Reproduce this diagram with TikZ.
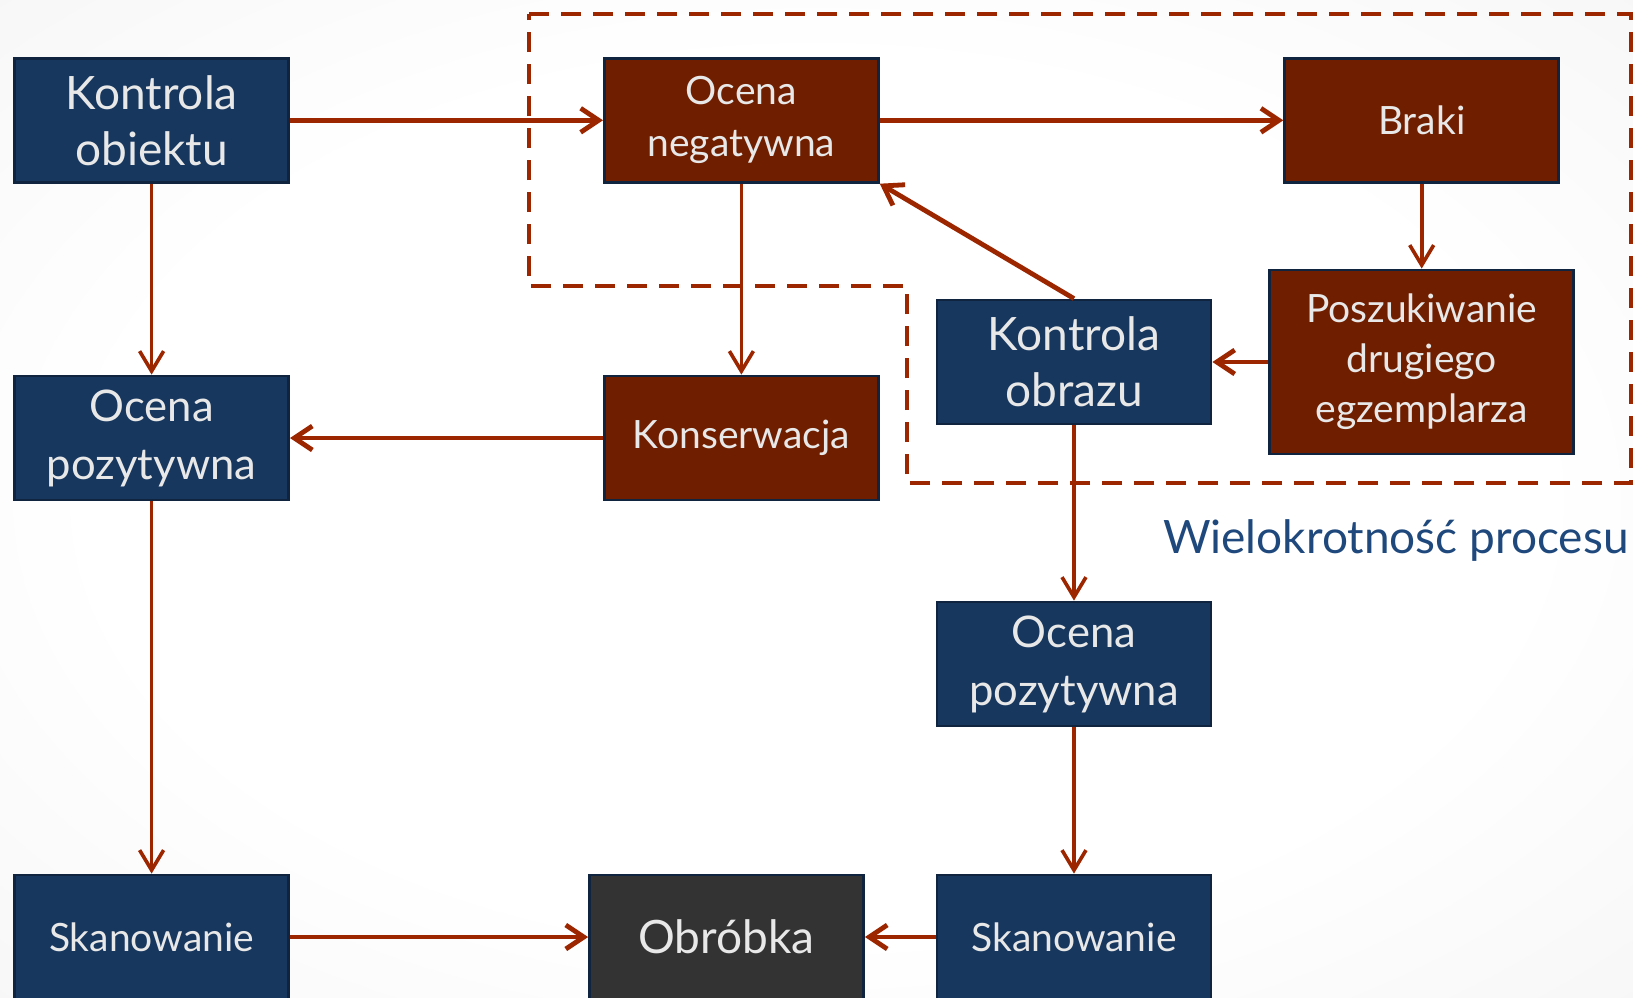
\documentclass[tikz,border=0pt]{standalone}
\usepackage{fontspec}
\setmainfont{Lato}
\usepackage{tikz}
\usepackage{xcolor}
\usetikzlibrary{arrows.meta}

\definecolor{boxblue}{HTML}{17375E}
\definecolor{boxline}{HTML}{10243F}
\definecolor{boxred}{HTML}{701E00}
\definecolor{boxgrey}{HTML}{333333}
\definecolor{linkred}{HTML}{9B2600}
\definecolor{textgrey}{HTML}{E8E8E8}
\definecolor{noteblue}{HTML}{1F497D}
\pgfdeclareradialshading{bgshade}{\pgfpoint{0bp}{0bp}}{color(0bp)=(white); color(22bp)=(white); color(71bp)=(black!11)}

\tikzset{
  box/.style={draw=boxline, line width=1.4pt, text=textgrey, minimum width=137pt,
    minimum height=62pt, inner sep=0pt, align=center},
  bluebox/.style={box, fill=boxblue},
  redbox/.style={box, fill=boxred},
  greybox/.style={box, fill=boxgrey},
  bigtext/.style={font=\fontsize{23}{28}\selectfont},
  postext/.style={font=\fontsize{21.8}{29}\selectfont},
  midtext/.style={font=\fontsize{19.5}{26}\selectfont},
  smalltext/.style={font=\fontsize{19.5}{25}\selectfont},
  link/.style={draw=linkred, line width=2.4pt, -{Straight Barb[length=9pt,width=12pt]}},
  vlink/.style={draw=linkred, line width=1.8pt, -{Straight Barb[length=10pt,width=12pt]}},
}

\begin{document}
\begin{tikzpicture}[x=0.5pt,y=-0.5pt]
\useasboundingbox (0,0) rectangle (1633,997);
\shade[shading=bgshade] (0,0) rectangle (1633,997);

% dashed outline of the repeated part
\draw[linkred, line width=2pt, dash pattern=on 10pt off 6pt]
  (529,14) -- (1631,14) -- (1631,483) -- (907,483) -- (907,286) -- (529,286) -- cycle;

% left column
\node[bluebox, bigtext] (kobiekt) at (151.6,120.3) {Kontrola\\obiektu};
\node[bluebox, postext] (opozl) at (151.6,438) {Ocena\\pozytywna};
\node[bluebox, midtext] (skanl) at (151.6,937) {Skanowanie};

% middle column
\node[redbox, midtext] (oneg) at (741.4,120.3) {Ocena\\negatywna};
\node[redbox, midtext] (kons) at (741.4,438) {Konserwacja};
\node[greybox, bigtext] (obrobka) at (726.5,937) {Obróbka};

% right part
\node[redbox, midtext] (braki) at (1421.7,120.3) {Braki};
\node[redbox, smalltext, minimum width=152pt, minimum height=92pt] (poszuk) at (1421.7,362) {Poszukiwanie\\drugiego\\egzemplarza};
\node[bluebox, bigtext] (kobraz) at (1074,362) {Kontrola\\obrazu};
\node[bluebox, postext] (opozr) at (1074,664) {Ocena\\pozytywna};
\node[bluebox, midtext] (skanr) at (1074,937) {Skanowanie};

\node[text=noteblue, bigtext, inner sep=0pt, anchor=base east] (wielo) at (1629,553) {Wielokrotność procesu};

% connectors
\draw[link] (kobiekt.east) -- (oneg.west);
\draw[link] (oneg.east) -- (braki.west);
\draw[link] (kons.west) -- (opozl.east);
\draw[link] (poszuk.west) -- (kobraz.east);
\draw[link] (kobraz.north) -- (oneg.south east);
\draw[link] (skanl.east) -- (obrobka.west);
\draw[link] (skanr.west) -- (obrobka.east);
\draw[vlink] (kobiekt.south) -- (opozl.north);
\draw[vlink] (opozl.south) -- (skanl.north);
\draw[vlink] (oneg.south) -- (kons.north);
\draw[vlink] (braki.south) -- (poszuk.north);
\draw[vlink] (kobraz.south) -- (opozr.north);
\draw[vlink] (opozr.south) -- (skanr.north);
\end{tikzpicture}
\end{document}
